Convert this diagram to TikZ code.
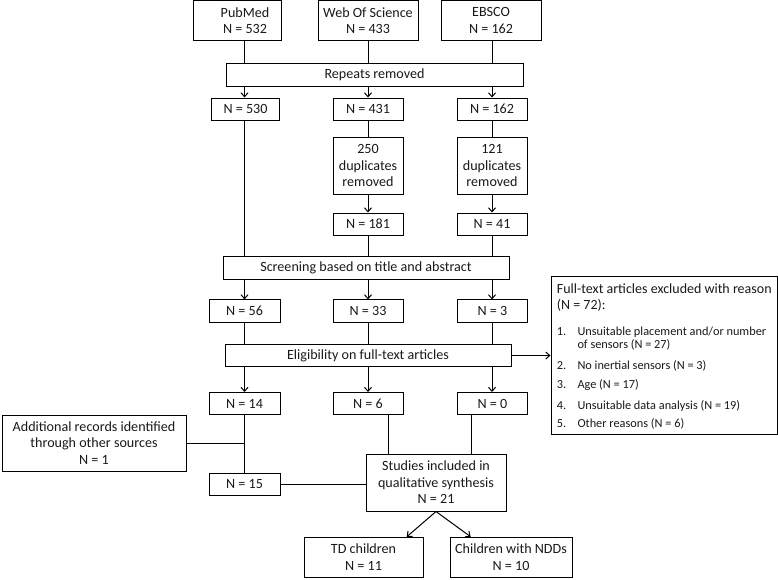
\documentclass[tikz,border=0pt]{standalone}
\usepackage{fontspec}
\setmainfont{Carlito}
\usetikzlibrary{arrows.meta}
\begin{document}
\begin{tikzpicture}[x=1pt,y=-1pt,
  box/.style={draw, line width=1pt, inner sep=0pt, align=center,
    font=\fontsize{14.1}{16.5}\selectfont, text=black!90},
  conn/.style={line width=1pt},
  arr/.style={conn, -{Straight Barb[length=4pt,width=7pt]}},
  ex/.style={anchor=base west, inner sep=0pt, font=\fontsize{12.3}{13.5}\selectfont, text=black!90},
  exh/.style={ex, font=\fontsize{14}{16}\selectfont}]
\useasboundingbox (0,0) rectangle (778,579);
% column guides
\coordinate (c1) at (244.5,0);
\coordinate (c2) at (368,0);
\coordinate (c3) at (492,0);
\coordinate (d2) at (388,0);
\coordinate (d3) at (471,0);
\coordinate (t1) at (406.7,0);
\coordinate (t2) at (470.7,0);
% top
\node[box,minimum width=88,minimum height=39.5] (pub) at (237,20.5) {\hspace*{16pt}PubMed\\\hspace*{16pt}N = 532};
\node[box,minimum width=100,minimum height=39.5] (wos) at (368,20.5) {Web Of Science\\N = 433};
\node[box,minimum width=100,minimum height=39.5] (ebs) at (491,20.5) {EBSCO\\N = 162};
\node[box,minimum width=297,minimum height=23] (rep) at (374.5,74.5) {Repeats removed};
\node[box,minimum width=68,minimum height=22] (n530) at (245.5,109) {N = 530};
\node[box,minimum width=70,minimum height=22] (n431) at (368,109) {N = 431};
\node[box,minimum width=70,minimum height=22] (n162) at (492,109) {N = 162};
\node[box,minimum width=70,minimum height=57] (dup2) at (368,165.5) {250\\duplicates\\removed};
\node[box,minimum width=70,minimum height=57] (dup3) at (492,165.5) {121\\duplicates\\removed};
\node[box,minimum width=70,minimum height=22] (n181) at (368,224) {N = 181};
\node[box,minimum width=70,minimum height=22] (n41) at (492,224) {N = 41};
\node[box,minimum width=286,minimum height=23] (scr) at (366,267.5) {Screening based on title and abstract};
\node[box,minimum width=71,minimum height=22.5] (n56) at (244.5,311.2) {N = 56};
\node[box,minimum width=70,minimum height=22.5] (n33) at (368,311.2) {N = 33};
\node[box,minimum width=70,minimum height=22.5] (n3) at (492.5,311.2) {N = 3};
\node[box,minimum width=286,minimum height=22.5] (elig) at (368,355.5) {Eligibility on full-text articles};
\node[box,minimum width=71,minimum height=22] (n14) at (244.5,403.5) {N = 14};
\node[box,minimum width=70,minimum height=22] (n6) at (368,403.5) {N = 6};
\node[box,minimum width=70,minimum height=22] (n0) at (492.5,403.5) {N = 0};
\node[box,minimum width=184,minimum height=56] (add) at (94,443) {Additional records identified\\through other sources\\N = 1};
\node[box,minimum width=71,minimum height=22] (n15) at (244.5,484) {N = 15};
\node[box,minimum width=140,minimum height=57] (stu) at (436,482.5) {Studies included in\\qualitative synthesis\\N = 21};
\node[box,minimum width=119,minimum height=40] (td) at (363.5,557.3) {TD children\\N = 11};
\node[box,minimum width=122,minimum height=40] (ndd) at (511,557.3) {Children with NDDs\\N = 10};
% exclusion box
\node[draw, line width=1pt, minimum width=226, minimum height=158, inner sep=0pt] (exc) at (664,355.3) {};
\node[exh] (ex0) at (556.7,293.5) {Full-text articles excluded with reason};
\node[exh] (ex1) at (556.7,309.5) {(N = 72):};
\node[ex] (e1n) at (556.7,335.5) {1.};
\node[ex] (e1a) at (577.3,335.5) {Unsuitable placement and/or number};
\node[ex] (e1b) at (577.3,348.8) {of sensors (N = 27)};
\node[ex] (e2n) at (556.7,369.8) {2.};
\node[ex] (e2a) at (577.3,369.8) {No inertial sensors (N = 3)};
\node[ex] (e3n) at (556.7,388.8) {3.};
\node[ex] (e3a) at (577.3,388.8) {Age (N = 17)};
\node[ex] (e4n) at (556.7,409.5) {4.};
\node[ex] (e4a) at (577.3,409.5) {Unsuitable data analysis (N = 19)};
\node[ex] (e5n) at (556.7,427.8) {5.};
\node[ex] (e5a) at (577.3,427.8) {Other reasons (N = 6)};
% connectors
\draw[conn] (pub.south -| c1) -- (rep.north -| c1);
\draw[conn] (wos.south -| c2) -- (rep.north -| c2);
\draw[conn] (ebs.south -| c3) -- (rep.north -| c3);
\draw[arr] (rep.south -| c1) -- (n530.north -| c1);
\draw[arr] (rep.south -| c2) -- (n431.north -| c2);
\draw[arr] (rep.south -| c3) -- (n162.north -| c3);
\draw[conn] (n530.south -| c1) -- (scr.north -| c1);
\draw[conn] (n431.south -| c2) -- (dup2.north -| c2);
\draw[conn] (n162.south -| c3) -- (dup3.north -| c3);
\draw[arr] (dup2.south -| c2) -- (n181.north -| c2);
\draw[arr] (dup3.south -| c3) -- (n41.north -| c3);
\draw[conn] (n181.south -| c2) -- (scr.north -| c2);
\draw[conn] (n41.south -| c3) -- (scr.north -| c3);
\draw[arr] (scr.south -| c1) -- (n56.north -| c1);
\draw[arr] (scr.south -| c2) -- (n33.north -| c2);
\draw[arr] (scr.south -| c3) -- (n3.north -| c3);
\draw[conn] (n56.south -| c1) -- (elig.north -| c1);
\draw[conn] (n33.south -| c2) -- (elig.north -| c2);
\draw[conn] (n3.south -| c3) -- (elig.north -| c3);
\draw[arr] (elig.south -| c1) -- (n14.north -| c1);
\draw[arr] (elig.south -| c2) -- (n6.north -| c2);
\draw[arr] (elig.south -| c3) -- (n0.north -| c3);
\draw[arr] (elig.east) -- (elig.east -| exc.west);
\draw[conn] (n14.south -| c1) -- (n15.north -| c1);
\draw[conn] (add.east) -- (add.east -| c1);
\draw[conn] (n15.east) -- (n15.east -| stu.west);
\draw[conn] (n6.south -| d2) -- (stu.north -| d2);
\draw[conn] (n0.south -| d3) -- (stu.north -| d3);
\draw[arr] (stu.south) -- (td.north -| t1);
\draw[arr] (stu.south) -- (ndd.north -| t2);
\end{tikzpicture}
\end{document}
